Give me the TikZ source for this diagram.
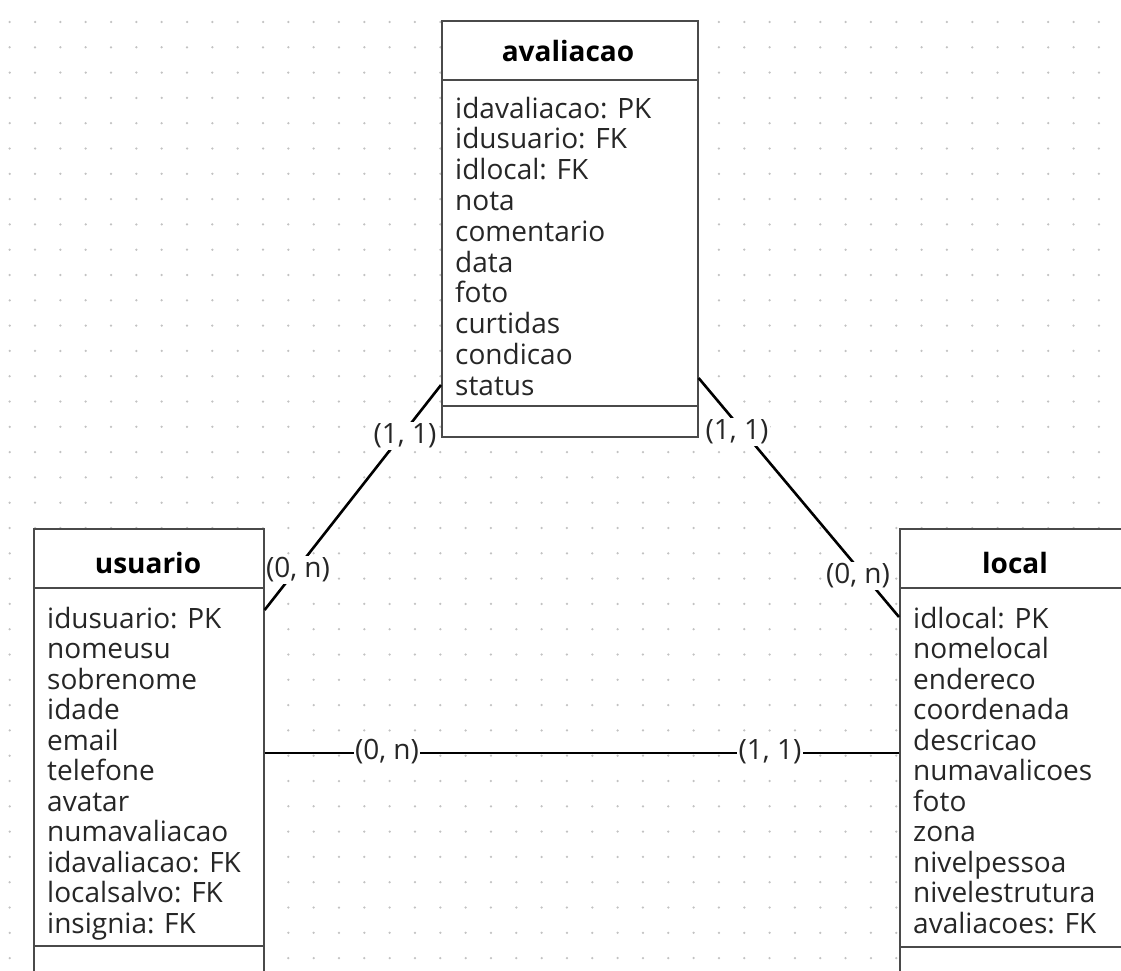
\documentclass[tikz,border=0pt]{standalone}
\usepackage{fontspec}
\setmainfont{Open Sans}
\usetikzlibrary{calc}
\definecolor{dotc}{HTML}{C2C2C2}
\definecolor{boxc}{HTML}{4A4A4A}
\definecolor{txt}{HTML}{262626}
\begin{document}
\begin{tikzpicture}[x=1pt,y=-1pt,
  entity/.style={draw=boxc, line width=1.6pt, fill=white, rectangle, inner sep=0pt, anchor=north west},
  sepline/.style={draw=boxc, line width=1.6pt},
  title/.style={font=\bfseries\fontsize{28}{30}\selectfont, anchor=base, inner sep=0pt, text=black},
  attr/.style={font=\fontsize{28}{30}\selectfont, anchor=base west, inner sep=0pt, text=txt},
  card/.style={font=\fontsize{28}{30}\selectfont, fill=white, inner sep=1.5pt, text=txt},
  rel/.style={draw=black, line width=2.6pt}]
\useasboundingbox (0,0) rectangle (1121,971);
\clip (0,0) rectangle (1121,971);
\fill[white] (0,0) rectangle (1121,971);
% dot grid
\foreach \i in {0,...,44}{
  \foreach \j in {0,...,38}{
    \fill[dotc] (9.7+25.33*\i, 22+25.3*\j) circle (1.25);
  }
}
% entities
\node[entity, minimum width=256pt, minimum height=416pt] (aval) at (441,20) {};
\node[entity, minimum width=230pt, minimum height=500pt] (usu) at (33,528) {};
\node[entity, minimum width=232pt, minimum height=500pt] (loc) at (899,528) {};
% compartments
\draw[sepline] ($(aval.north west)+(0,60)$) -- ($(aval.north east)+(0,60)$);
\draw[sepline] ($(aval.north west)+(0,386)$) -- ($(aval.north east)+(0,386)$);
\draw[sepline] ($(usu.north west)+(0,60)$) -- ($(usu.north east)+(0,60)$);
\draw[sepline] ($(usu.north west)+(0,418)$) -- ($(usu.north east)+(0,418)$);
\draw[sepline] ($(loc.north west)+(0,60)$) -- ($(loc.north east)+(0,60)$);
\draw[sepline] ($(loc.north west)+(0,419)$) -- ($(loc.north east)+(0,419)$);
% titles
\node[title] (avalT) at (568,62) {avaliacao};
\node[title] (usuT) at (148,573) {usuario};
\node[title] (locT) at (1015,573) {local};
% attributes
\foreach \t [count=\k from 0] in {idavaliacao: PK, idusuario: FK, idlocal: FK, nota, comentario, data, foto, curtidas, condicao, status}
  \node[attr] (av\k) at (455,118+30.8*\k) {\t};
\foreach \t [count=\k from 0] in {idusuario: PK, nomeusu, sobrenome, idade, email, telefone, avatar, numavaliacao, idavaliacao: FK, localsalvo: FK, insignia: FK}
  \node[attr] (us\k) at (47,628+30.5*\k) {\t};
\foreach \t [count=\k from 0] in {idlocal: PK, nomelocal, endereco, coordenada, descricao, numavalicoes, foto, zona, nivelpessoa, nivelestrutura, avaliacoes: FK}
  \node[attr] (lo\k) at (913,628+30.5*\k) {\t};
% relationships
\draw[rel] ($(aval.north west)+(0,365)$) -- ($(usu.north east)+(0,82)$);
\draw[rel] ($(aval.north east)+(0,358)$) -- ($(loc.north west)+(0,89)$);
\draw[rel] ($(usu.north east)+(0,225)$) -- ($(loc.north west)+(0,225)$);
% cardinalities
\node[card] (c1) at (405,436) {(1, 1)};
\node[card] (c2) at (298,570) {(0, n)};
\node[card] (c3) at (737,432) {(1, 1)};
\node[card] (c4) at (858,576) {(0, n)};
\node[card] (c5) at (387,752) {(0, n)};
\node[card] (c6) at (770,752) {(1, 1)};
\end{tikzpicture}
\end{document}
